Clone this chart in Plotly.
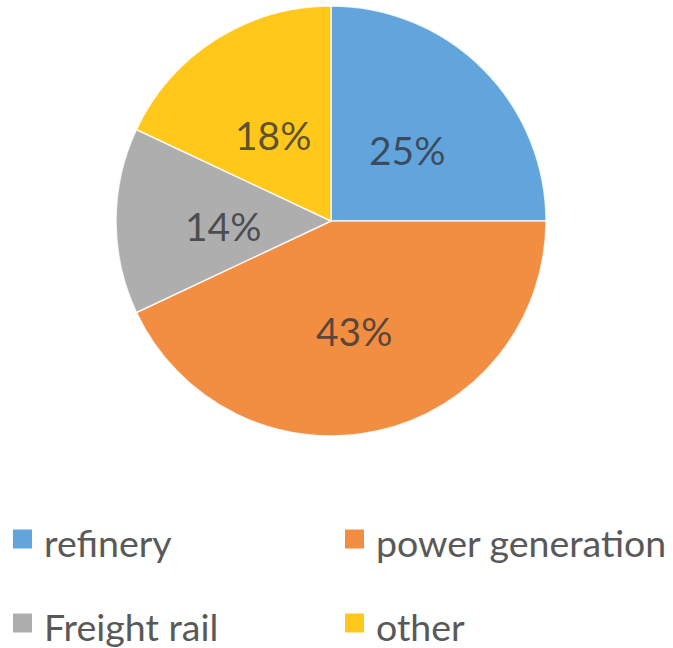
import math
import plotly.graph_objects as go

# Share of use by sector (percent)
categories = ["refinery", "power generation", "Freight rail", "other"]
shares = [25, 43, 14, 18]
slice_colors = ["#62A5DD", "#F28E42", "#AEAEAE", "#FFC81A"]

W, H = 673, 648

# pie placement in pixels
PIE_LEFT, PIE_RIGHT, PIE_TOP, PIE_BOTTOM = 116, 546, 6, 436
PIE_CX = (PIE_LEFT + PIE_RIGHT) / 2
PIE_CY = (PIE_TOP + PIE_BOTTOM) / 2
PIE_R = (PIE_RIGHT - PIE_LEFT) / 2
LABEL_RADIUS = 0.5
LABEL_DROP = 5  # nudge text box so the glyphs sit centred on the anchor


def px_x(x):
    return x / W


def px_y(y):
    return 1 - y / H


fig = go.Figure(
    go.Pie(
        labels=categories,
        values=shares,
        sort=False,
        direction="clockwise",
        rotation=0,
        marker=dict(colors=slice_colors, line=dict(color="rgba(255,255,255,0.8)", width=1.5)),
        textinfo="none",
        domain=dict(x=[px_x(PIE_LEFT), px_x(PIE_RIGHT)], y=[px_y(PIE_BOTTOM), px_y(PIE_TOP)]),
        showlegend=False,
        hoverinfo="label+percent",
    )
)

notes, shapes = [], []

# Percent labels at half radius along each slice's mid angle (clockwise from 12 o'clock)
total = sum(shares)
start = 0.0
for v in shares:
    frac = v / total
    mid = (start + frac / 2) * 2 * math.pi
    start += frac
    lx = PIE_CX + LABEL_RADIUS * PIE_R * math.sin(mid)
    ly = PIE_CY - LABEL_RADIUS * PIE_R * math.cos(mid) + LABEL_DROP
    notes.append(dict(
        text=f"{round(frac * 100)}%", xref="paper", yref="paper",
        x=px_x(lx), y=px_y(ly), xanchor="center", yanchor="middle",
        showarrow=False,
        font=dict(family="Lato", size=39, color="rgba(50,50,55,0.78)"),
    ))

# Two-column legend below the pie
col_left = [13, 345]
row_mid = [539, 623]
box = 19
for i, (name, col) in enumerate(zip(categories, slice_colors)):
    cx = col_left[i % 2]
    cy = row_mid[i // 2]
    shapes.append(dict(
        type="rect", xref="paper", yref="paper",
        x0=px_x(cx), x1=px_x(cx + box),
        y0=px_y(cy + box / 2), y1=px_y(cy - box / 2),
        fillcolor=col, line=dict(width=0),
    ))
    notes.append(dict(
        text=name, xref="paper", yref="paper",
        x=px_x(cx + box + 10), y=px_y(cy + 3),
        xanchor="left", yanchor="middle", showarrow=False,
        font=dict(family="Lato", size=37.5, color="#595959"),
    ))

fig.update_layout(
    width=W, height=H,
    margin=dict(l=0, r=0, t=0, b=0),
    paper_bgcolor="white",
    plot_bgcolor="white",
    shapes=shapes,
    annotations=notes,
)

fig.write_html("out.html")
